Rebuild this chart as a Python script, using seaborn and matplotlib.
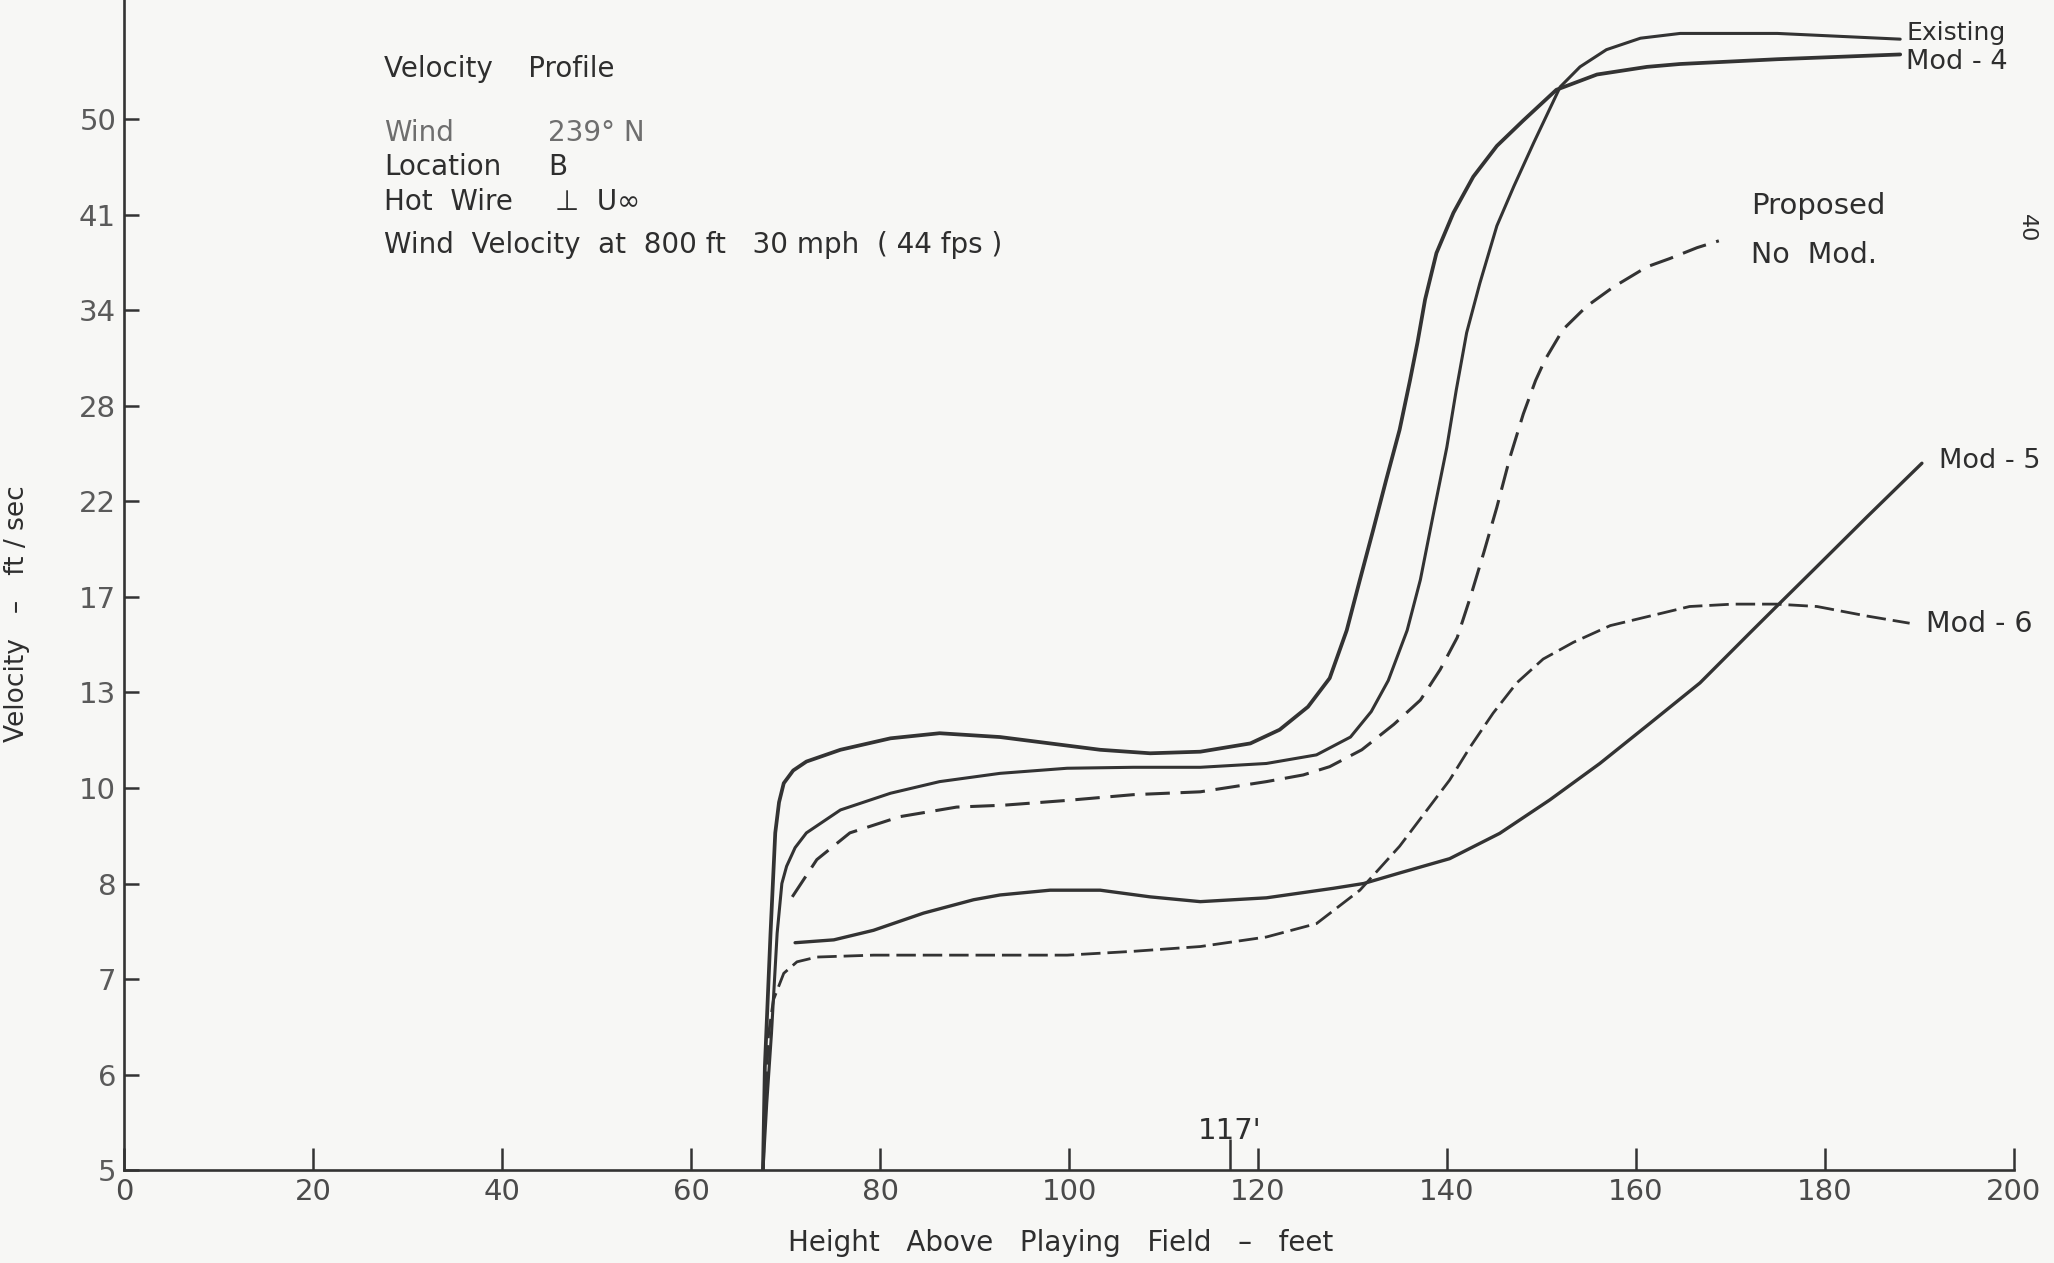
import numpy as np
import pandas as pd
import matplotlib
matplotlib.use("Agg")
import matplotlib.pyplot as plt
import matplotlib.transforms as mtransforms
import seaborn as sns

# ---------------- data ----------------
Y_TICKS = [5, 6, 7, 8, 10, 13, 17, 22, 28, 34, 41, 50]
X_TICKS = [0, 20, 40, 60, 80, 100, 120, 140, 160, 180, 200]
Y_SCALE_EXT = [60, 70]          # the scale continues above the last labelled tick
MARK_X = 117                    # extra marked height

mod4_x = [67.6, 67.8, 68.4, 68.9, 69.3, 69.8, 70.8, 72.2, 75.8, 81.1, 86.3, 92.7,
          98.0, 103.3, 108.6, 113.9, 119.2, 122.3, 125.3, 127.6, 129.4, 130.8,
          132.2, 133.6, 135.0, 136.1, 136.9, 137.7, 138.9, 140.7, 142.8, 145.3, 148.1,
          151.6, 155.9, 161.2, 164.7, 175.0, 188.0]
mod4_v = [5.0, 6.08, 7.48, 9.06, 9.7, 10.15, 10.55, 10.83, 11.2, 11.56, 11.72, 11.6,
          11.4, 11.2, 11.09, 11.14, 11.4, 11.83, 12.55, 13.6, 15.6, 17.9,
          20.5, 23.4, 26.5, 29.6, 32.0, 34.8, 38.2, 41.2, 44.6, 47.5, 49.9,
          53.1, 54.7, 55.5, 55.8, 56.3, 56.8]

exist_x = [67.6, 68.0, 68.5, 69.1, 69.6, 70.1, 71.0, 72.2, 75.8, 81.1, 86.3, 92.7,
           99.8, 106.8, 113.9, 120.9, 126.2, 129.8, 132.0, 133.8, 135.8, 137.2,
           138.6, 140.0, 141.0, 142.1, 143.5, 145.3, 147.1, 149.2, 152.0, 154.1,
           156.9, 160.5, 164.7, 175.0, 188.0]
exist_v = [5.0, 5.7, 6.43, 7.48, 8.0, 8.36, 8.75, 9.06, 9.54, 9.89, 10.2, 10.46,
           10.62, 10.65, 10.65, 10.77, 11.04, 11.6, 12.4, 13.5, 15.6, 17.9,
           21.4, 25.4, 29.0, 32.6, 36.0, 40.2, 43.7, 47.8, 53.4, 55.5,
           57.3, 58.5, 59.0, 59.0, 58.4]

nomod_x = [70.7, 73.3, 76.8, 82.1, 88.1, 93.1, 99.8, 106.8, 113.9, 120.9, 124.8,
           127.6, 131.0, 134.4, 137.2, 139.3, 141.1, 142.5, 143.9, 145.3, 146.7,
           148.1, 149.4, 150.4, 152.3, 154.8, 157.6, 161.2, 163.6, 166.5, 168.8]
nomod_v = [7.86, 8.5, 9.06, 9.4, 9.6, 9.64, 9.74, 9.86, 9.92, 10.2, 10.41,
           10.67, 11.2, 12.0, 12.76, 13.96, 15.3, 17.0, 19.3, 21.7, 24.8,
           27.5, 29.6, 30.9, 32.8, 34.3, 35.7, 37.2, 37.8, 38.6, 39.1]

mod5_x = [71.0, 75.1, 79.3, 84.6, 89.9, 92.7, 98.0, 103.3, 108.6, 113.9, 120.9,
          128.0, 131.2, 135.0, 140.3, 145.6, 150.9, 156.2, 161.5, 166.8, 172.1,
          174.9, 179.2, 184.5, 190.3]
mod5_v = [7.38, 7.41, 7.51, 7.69, 7.83, 7.88, 7.93, 7.93, 7.86, 7.81, 7.85,
          7.95, 8.0, 8.22, 8.52, 9.05, 9.75, 10.77, 12.03, 13.4, 15.5,
          16.6, 18.6, 21.2, 24.4]

mod6_x = [67.6, 67.9, 68.2, 68.7, 69.8, 71.2, 73.3, 79.3, 86.3, 92.7, 99.8,
          106.8, 113.9, 120.9, 126.2, 130.8, 135.0, 140.3, 142.5, 144.9, 147.4,
          150.2, 153.4, 157.3, 161.5, 165.7, 170.3, 174.9, 179.2, 184.5, 189.0]
mod6_v = [5.0, 5.8, 6.43, 6.78, 7.06, 7.18, 7.23, 7.25, 7.25, 7.25, 7.25,
          7.29, 7.34, 7.44, 7.58, 7.93, 8.78, 10.25, 11.3, 12.35, 13.4,
          14.4, 15.1, 15.8, 16.2, 16.6, 16.7, 16.7, 16.6, 16.2, 15.9]

# ---------------- figure ----------------
sns.set_theme(style="white")
plt.rcParams['font.family'] = ['DejaVu Sans']
BG = '#f7f7f5'
INK = '#2e2e2e'
GREY = '#6e6e6e'
LINE = '#333333'

fig = plt.figure(figsize=(20.54, 12.63), dpi=100, facecolor=BG)
ax = fig.add_axes([0.0606, 0.0736, 0.9197, 0.9264])
ax.set_facecolor(BG)

ext = np.array(Y_TICKS + Y_SCALE_EXT, dtype=float)
pos = np.arange(len(ext), dtype=float)
fwd = lambda v: np.interp(v, ext, pos)
inv = lambda p: np.interp(p, pos, ext)
ax.set_yscale('function', functions=(fwd, inv))

series = [
    ("Mod-4", mod4_x, mod4_v, '-', 2.7),
    ("Existing", exist_x, exist_v, '-', 2.2),
    ("Proposed No Mod.", nomod_x, nomod_v, (0, (8, 3.5)), 2.2),
    ("Mod-5", mod5_x, mod5_v, '-', 2.4),
    ("Mod-6", mod6_x, mod6_v, (0, (7, 2.5)), 2.0),
]
for name, xs, vs, ls, lw in series:
    df = pd.DataFrame({"height": xs, "velocity": vs})
    sns.lineplot(data=df, x="height", y="velocity", ax=ax, sort=False,
                 estimator=None, color=LINE, linewidth=lw, linestyle=ls,
                 legend=False, solid_joinstyle='round', dash_joinstyle='round')

ax.set_xlim(0, 200)
ax.set_ylim(5, inv(12.25))
ax.set_xticks(X_TICKS)
ax.set_yticks(Y_TICKS)
ax.set_xticklabels([str(t) for t in X_TICKS])
ax.set_yticklabels([str(t) for t in Y_TICKS])
ax.yaxis.set_minor_locator(matplotlib.ticker.NullLocator())
ax.set_xticks([MARK_X], minor=True)
ax.set_xticklabels([''], minor=True)
for s in ['top', 'right']:
    ax.spines[s].set_visible(False)
for s in ['left', 'bottom']:
    ax.spines[s].set_color(LINE)
    ax.spines[s].set_linewidth(1.9)
ax.tick_params(axis='x', which='major', bottom=True, direction='in', length=16, width=1.8,
               color=LINE, labelsize=21, labelcolor='#4a4a4a', pad=6)
ax.tick_params(axis='x', which='minor', bottom=True, direction='in', length=22, width=1.8,
               color=LINE)
ax.tick_params(axis='y', which='major', left=True, direction='in', length=11, width=1.8,
               color=LINE, labelsize=21, labelcolor='#5a5a5a', pad=6)
ax.set_xlabel('')
ax.set_ylabel('')

# label of the extra marked height
blend = mtransforms.blended_transform_factory(ax.transData, ax.transAxes)
ax.text(MARK_X, 0.021, f"{MARK_X}'", transform=blend, ha='center', va='bottom',
        fontsize=21, color=INK)

# axis titles
fig.text(0.5165, 0.0155, 'Height   Above   Playing   Field   –   feet', ha='center', va='center',
         fontsize=20, color=INK)
fig.text(0.0085, 0.514, 'Velocity   –   ft / sec', ha='center', va='center', rotation=90,
         fontsize=19, color=INK)

# annotation block
FS = 20
fig.text(0.187, 0.945, 'Velocity    Profile', ha='left', va='center', fontsize=FS, color=INK)
fig.text(0.187, 0.895, 'Wind', ha='left', va='center', fontsize=FS, color=GREY)
fig.text(0.2666, 0.895, '239° N', ha='left', va='center', fontsize=FS, color=GREY)
fig.text(0.187, 0.868, 'Location', ha='left', va='center', fontsize=FS, color=INK)
fig.text(0.267, 0.868, 'B', ha='left', va='center', fontsize=FS, color=INK)
fig.text(0.187, 0.840, 'Hot  Wire', ha='left', va='center', fontsize=FS, color=INK)
fig.text(0.270, 0.840, '⊥  U∞', ha='left', va='center', fontsize=FS, color=INK)
fig.text(0.187, 0.806, 'Wind  Velocity  at  800 ft   30 mph  ( 44 fps )', ha='left',
         va='center', fontsize=FS, color=INK)

# curve labels
fig.text(0.928, 0.974, 'Existing', ha='left', va='center', fontsize=18, color=INK)
fig.text(0.928, 0.951, 'Mod - 4', ha='left', va='center', fontsize=19.5, color=INK)
fig.text(0.8525, 0.837, 'Proposed', ha='left', va='center', fontsize=21, color=INK)
fig.text(0.8525, 0.798, 'No  Mod.', ha='left', va='center', fontsize=20.5, color=INK)
fig.text(0.944, 0.635, 'Mod - 5', ha='left', va='center', fontsize=19.5, color=INK)
fig.text(0.9375, 0.506, 'Mod - 6', ha='left', va='center', fontsize=20.5, color=INK)
fig.text(0.987, 0.819, '40', ha='center', va='center', rotation=-90, fontsize=16, color=INK)

fig.savefig('out.png', dpi=100, facecolor=BG)
